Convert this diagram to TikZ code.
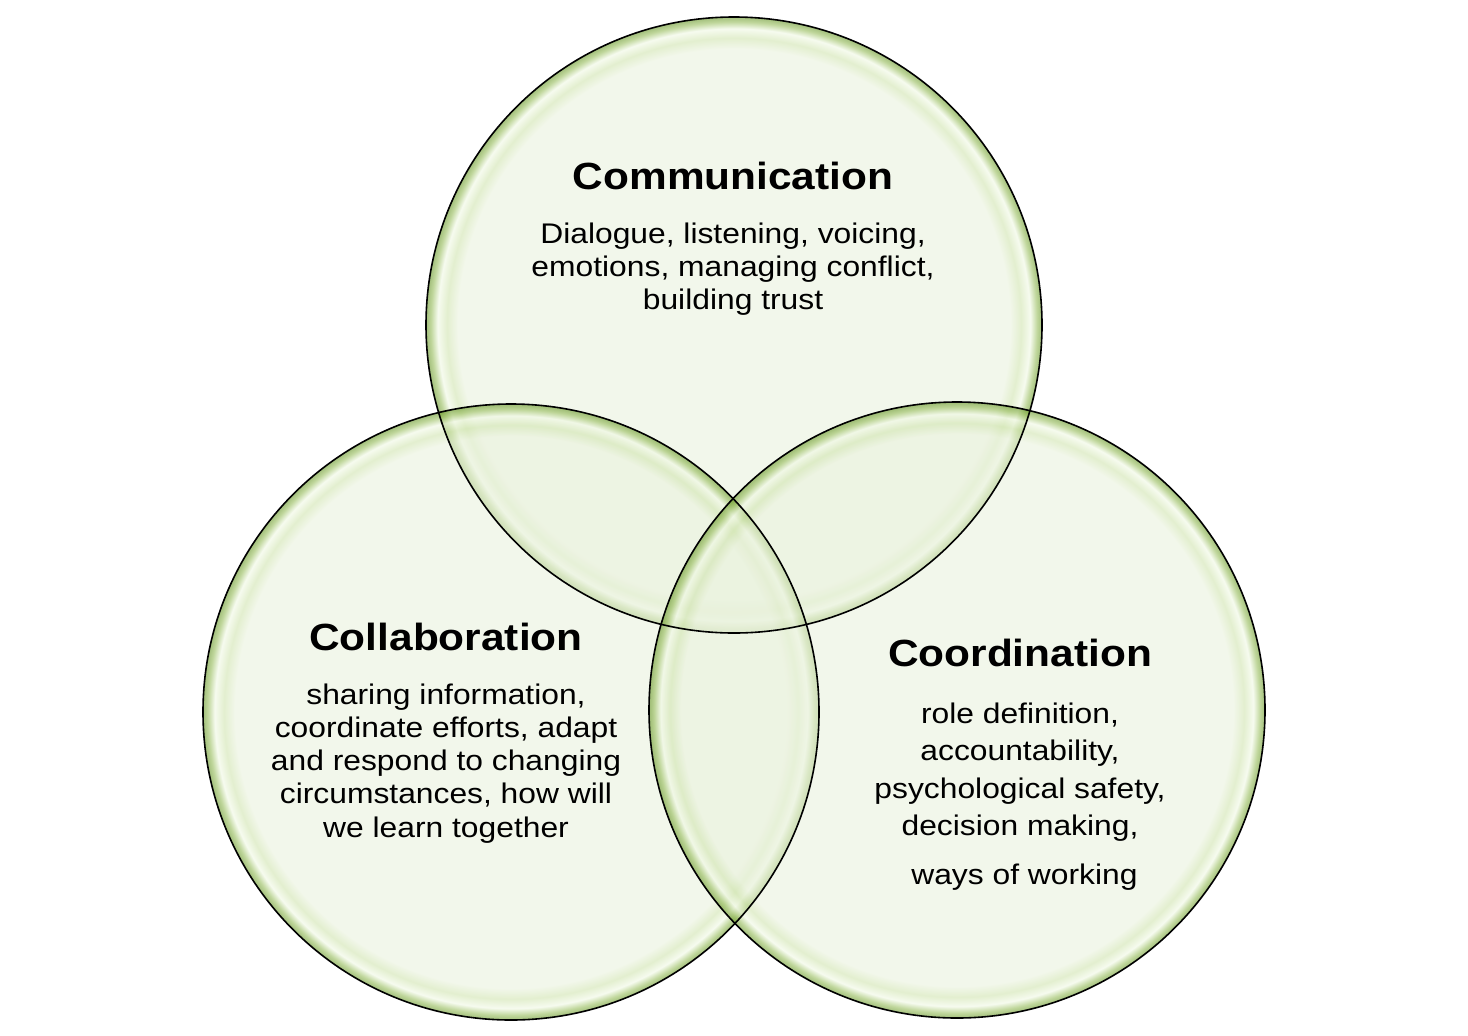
\documentclass[tikz,border=0pt]{standalone}
\usepackage{fontspec}
\setmainfont[FakeStretch=1.12]{Liberation Sans}
\usepackage{tikz}
\usetikzlibrary{positioning}
\usepackage{xcolor}

\definecolor{bubin}{RGB}{234,242,222}
\definecolor{bubmid}{RGB}{208,228,175}
\definecolor{bubring}{RGB}{240,248,228}
\definecolor{bubgreen}{RGB}{150,188,90}
\definecolor{bubedge}{RGB}{100,148,35}

% circle edge sits at 25bp
\pgfdeclareradialshading{bubble}{\pgfpoint{0bp}{0bp}}{%
    color(0bp)=(bubin); color(22.4bp)=(bubin); color(23.3bp)=(bubmid);
    color(24.05bp)=(bubring); color(24.6bp)=(bubgreen); color(25bp)=(bubedge);
    color(50bp)=(bubedge)}

\begin{document}
\begin{tikzpicture}[
    x=1bp, y=-1bp,
    bubble/.style={circle, minimum size=616bp, inner sep=0,
        shading=bubble, fill opacity=0.6},
    outline/.style={draw=black, line width=1.6bp},
    title/.style={inner sep=0, font=\fontsize{38}{44}\selectfont\bfseries},
    body/.style={inner sep=0, align=center, font=\fontsize{28.5}{33.3}\selectfont}
]
    \useasboundingbox (0,0) rectangle (1468,1035);

    % the three circles
    \node[bubble] (comm) at (734,325) {};
    \node[bubble] (coll) at (511,712) {};
    \node[bubble] (coor) at (957,710) {};
    \foreach \c in {comm,coll,coor}
        \draw[outline] (\c.center) circle[radius=308bp];

    % texts
    \node[title, anchor=base] (commtitle) at (733,189) {Communication};
    \node[body, below=33bp of commtitle] (commtext) {Dialogue, listening, voicing,\\emotions, managing conflict,\\building trust};

    \node[title, anchor=base] (colltitle) at (446,650) {Collaboration};
    \node[body, below=33bp of colltitle] (colltext) {sharing information,\\coordinate efforts, adapt\\and respond to changing\\circumstances, how will\\we learn together};

    \node[title, anchor=base] (coortitle) at (1020,666) {Coordination};
    \node[body, font=\fontsize{28.5}{37.5}\selectfont, below=36bp of coortitle] (coortext) {role definition,\\accountability,\\psychological safety,\\decision making,\\[12bp]\ ways of working};
\end{tikzpicture}
\end{document}
